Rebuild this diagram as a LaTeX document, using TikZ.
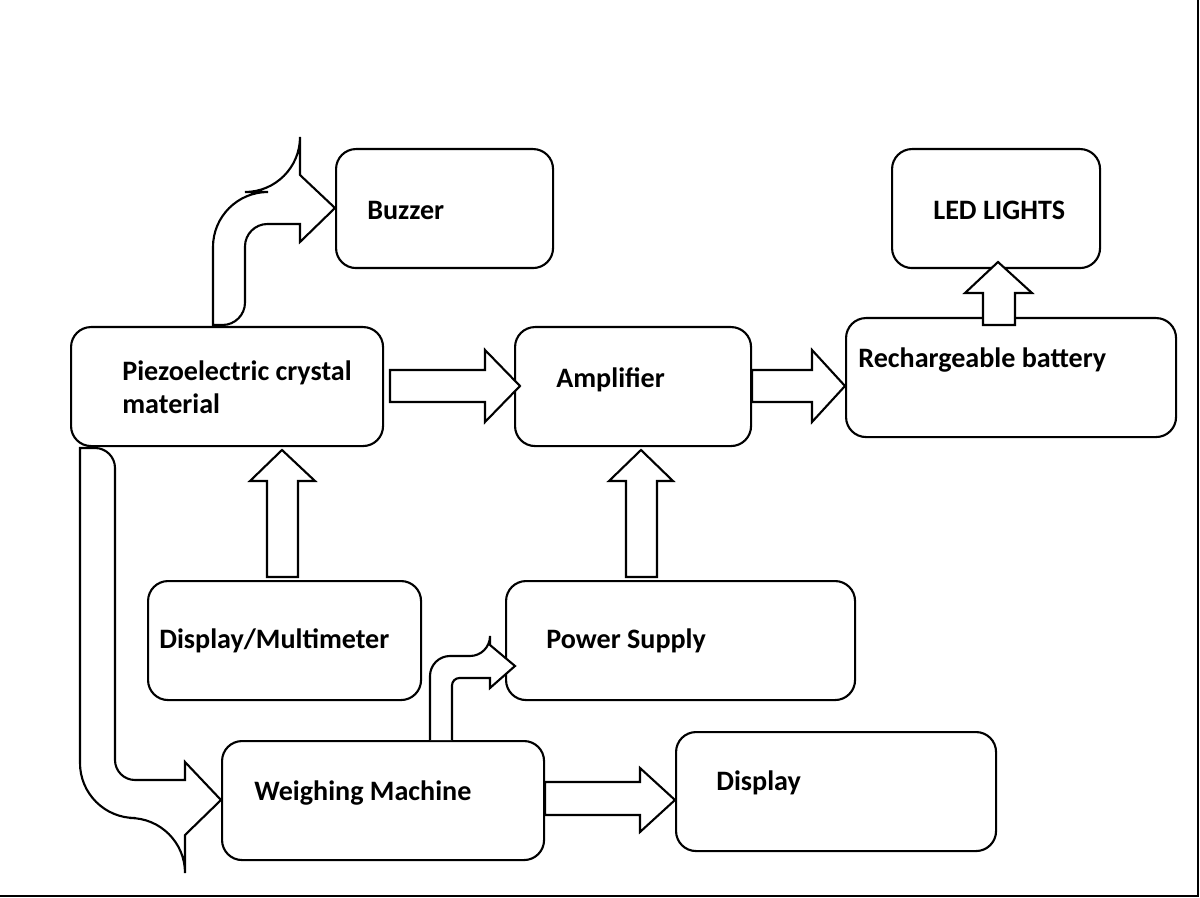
\documentclass[tikz,border=0pt]{standalone}
\usepackage{fontspec}
\setmainfont{Carlito}
\begin{document}
\begin{tikzpicture}[x=0.02cm, y=-0.02cm,
    block/.style={draw, line width=1.2pt, rounded corners=0.4cm, anchor=north west, inner sep=0pt},
    lbl/.style={anchor=west, font=\bfseries\fontsize{16}{19}\selectfont, inner sep=0pt, align=left},
    barrow/.style={draw, line width=1.2pt, fill=white, line join=miter}
]
\useasboundingbox (0,0) rectangle (1200,898);
\draw[line width=1.5pt] (0,896) -- (1198,896) -- (1198,0);

% boxes
\node[block, minimum width=217*0.02cm, minimum height=119*0.02cm] (buz) at (335,148) {};
\node[block, minimum width=208*0.02cm, minimum height=119*0.02cm] (led) at (891,148) {};
\node[block, minimum width=312*0.02cm, minimum height=119*0.02cm] (piezo) at (70,326) {};
\node[block, minimum width=236*0.02cm, minimum height=119*0.02cm] (amp) at (514,326) {};
\node[block, minimum width=330*0.02cm, minimum height=119*0.02cm] (bat) at (845,317) {};
\node[block, minimum width=273*0.02cm, minimum height=119*0.02cm] (disp) at (147,580) {};
\node[block, minimum width=349*0.02cm, minimum height=119*0.02cm] (pow) at (505,580) {};
\node[block, minimum width=322*0.02cm, minimum height=119*0.02cm] (weigh) at (221,740) {};
\node[block, minimum width=320*0.02cm, minimum height=119*0.02cm] (out) at (675,731) {};

% labels
\node[lbl] (buzt) at (367,210) {Buzzer};
\node[lbl] (ledt) at (933,210) {LED LIGHTS};
\node[lbl] (piezot) at (122,387) {Piezoelectric crystal\\material};
\node[lbl] (ampt) at (556,380) {Amplifier};
\node[lbl] (batt) at (858,360) {Rechargeable battery};
\node[lbl] (dispt) at (159,641) {Display/Multimeter};
\node[lbl] (powt) at (546,641) {Power Supply};
\node[lbl] (weight) at (254,793) {Weighing Machine};
\node[lbl] (outt) at (716,783) {Display};

% straight block arrows
\draw[barrow] (390,370) -- (485,370) -- (485,350) -- (520,386) -- (485,422) -- (485,402) -- (390,402) -- cycle;
\draw[barrow] (752,370) -- (812,370) -- (812,350) -- (845,386) -- (812,422) -- (812,402) -- (752,402) -- cycle;
\draw[barrow] (983,325) -- (983,293) -- (965,293) -- (998,262) -- (1032,293) -- (1015,293) -- (1015,325) -- cycle;
\draw[barrow] (267,577) -- (267,481) -- (250,481) -- (282,450) -- (315,481) -- (298,481) -- (298,577) -- cycle;
\draw[barrow] (626,577) -- (626,481) -- (609,481) -- (641,450) -- (673,481) -- (657,481) -- (657,577) -- cycle;
\draw[barrow] (545,782) -- (640,782) -- (640,768) -- (675,800) -- (640,832) -- (640,815) -- (545,815) -- cycle;

% bent block arrows
\draw[barrow] (213,325) {[rounded corners=1.1cm] -- (213,192) -- (300,192)} -- (300,175) -- (335,208) -- (300,242) -- (300,224) {[rounded corners=0.45cm] -- (245,224) -- (245,325)} -- cycle;
\draw[barrow] (80,448) {[rounded corners=1.1cm] -- (80,818) -- (185,818)} -- (185,835) -- (221,800) -- (185,762) -- (185,780) {[rounded corners=0.4cm] -- (115,780) -- (115,448)} -- cycle;
\draw[barrow] (430,740) {[rounded corners=0.4cm] -- (430,656) -- (490,656)} -- (490,645) -- (515,666) -- (490,688) -- (490,678) {[rounded corners=0.15cm] -- (452,678) -- (452,740)};
\end{tikzpicture}
\end{document}
